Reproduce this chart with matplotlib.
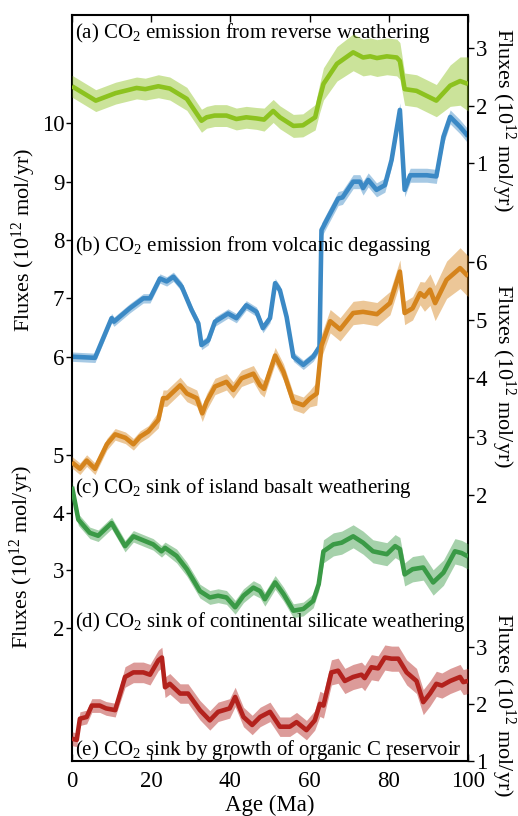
import matplotlib
matplotlib.use("Agg")
import matplotlib.pyplot as plt
import numpy as np

plt.rcParams['font.family'] = ['Liberation Serif', 'DejaVu Serif']
plt.rcParams['mathtext.fontset'] = 'custom'
plt.rcParams['mathtext.rm'] = 'Liberation Serif'
plt.rcParams['mathtext.it'] = 'Liberation Serif:italic'

# (a) reverse weathering, right axis 1-3
age_a = [0, 6, 11, 16.3, 18.5, 21.8, 24.7, 29, 32.7, 34, 36, 39, 41.5, 44, 46.6, 48.5, 50.8, 52.5, 55.9, 58.3,
         61.4, 62.5, 63.5, 66.9, 71, 73.5, 75.3, 77, 79.5, 82, 82.8, 84, 87, 92, 95.5, 98, 100]
flux_a = [2.34, 2.09, 2.22, 2.31, 2.29, 2.34, 2.30, 2.12, 1.74, 1.80, 1.83, 1.83, 1.77, 1.80, 1.78, 1.76, 1.91, 1.80, 1.65, 1.66,
          1.80, 2.12, 2.38, 2.73, 2.93, 2.84, 2.86, 2.83, 2.86, 2.84, 2.78, 2.29, 2.26, 2.09, 2.35, 2.43, 2.38]
err_a = [0.19, 0.19, 0.19, 0.19, 0.19, 0.2, 0.2, 0.2, 0.2, 0.19, 0.19, 0.19, 0.19, 0.19, 0.19, 0.2, 0.2, 0.2, 0.2, 0.2,
         0.22, 0.25, 0.28, 0.3, 0.32, 0.32, 0.32, 0.32, 0.32, 0.32, 0.32, 0.28, 0.28, 0.28, 0.36, 0.42, 0.47]

# (b) volcanic degassing, left axis 6-10
age_b = [0, 5.8, 10, 10.6, 14.6, 18, 19.7, 22.2, 23.9, 25.6, 27.7, 30.2, 31.9, 32.7, 34.4, 36.1, 39.4, 41.5, 44, 46.6,
         48.2, 50, 51.3, 52.5, 54.2, 55.9, 58.4, 60.9, 62.5, 63, 64.3, 67.2, 68.3, 71, 72.7, 73.5, 74.8, 76.9, 79, 80.7,
         82.8, 84, 85.4, 89.6, 92, 93.8, 95.5, 98, 100]
flux_b = [6.0, 5.98, 6.66, 6.6, 6.83, 7.0, 7.0, 7.34, 7.29, 7.37, 7.2, 6.8, 6.57, 6.2, 6.28, 6.6, 6.74, 6.66, 6.88, 6.77,
          6.49, 6.66, 7.26, 7.14, 6.68, 6.0, 5.86, 6.0, 6.17, 8.17, 8.34, 8.71, 8.73, 9.0, 9.0, 8.89, 9.03, 8.86, 8.94, 9.37,
          10.23, 8.86, 9.11, 9.11, 9.09, 9.77, 10.11, 9.94, 9.78]
err_b = [0.08] * 29 + [0.12] * 20

# orange series, right axis 2-6
age_o = [0, 2, 3.7, 5.8, 8.8, 10.9, 13.5, 15.5, 17.2, 19.3, 21.8, 23, 23.9, 27.3, 29, 31.5, 32.9, 34, 36.1, 39,
         40.7, 42.8, 45.8, 47.5, 48.5, 51.3, 53.4, 55.9, 58.4, 60, 61.8, 63, 65.2, 67.7, 71, 73.5, 75.3, 77, 80.3, 82.8,
         84, 86, 87.9, 89, 90.4, 91.7, 94.6, 98, 100]
flux_o = [2.56, 2.45, 2.59, 2.45, 2.87, 3.04, 2.98, 2.87, 3.0, 3.09, 3.29, 3.66, 3.66, 3.88, 3.74, 3.66, 3.40, 3.6, 3.86, 3.94,
          3.80, 4.0, 4.08, 3.88, 3.82, 4.39, 4.11, 3.60, 3.54, 3.65, 3.74, 4.56, 4.98, 4.84, 5.12, 5.14, 5.12, 5.10, 5.29, 5.83,
          5.12, 5.2, 5.46, 5.4, 5.52, 5.29, 5.69, 5.89, 5.75]
err_o = [0.1] * 10 + [0.14] * 20 + [0.2] * 13 + [0.25, 0.27, 0.3, 0.32, 0.35, 0.35]

# green series, left axis 2-5
age_g = [0, 1.6, 4.5, 6.6, 10, 13.4, 15.5, 20.5, 22.6, 23.5, 26.4, 29, 32.3, 34.8, 36.9, 39, 41.2, 43.3, 45.8, 47.5,
         48.7, 51.3, 53.4, 55.9, 58.4, 60.9, 62.3, 63.5, 66, 68.1, 71, 73.5, 76, 79.5, 81.6, 82.8, 84, 86, 88.7, 91.2,
         93.8, 96.7, 98.4, 100]
flux_g = [4.45, 3.88, 3.65, 3.6, 3.82, 3.42, 3.59, 3.45, 3.33, 3.39, 3.25, 3.02, 2.64, 2.53, 2.56, 2.53, 2.36, 2.56, 2.70, 2.64,
          2.5, 2.79, 2.59, 2.30, 2.33, 2.47, 2.76, 3.33, 3.45, 3.48, 3.59, 3.48, 3.33, 3.28, 3.42, 3.37, 2.93, 3.02, 3.05, 2.79,
          2.96, 3.33, 3.30, 3.24]
err_g = [0.1] * 10 + [0.12] * 17 + [0.2] * 10 + [0.22] * 7

# (e) organic C reservoir, right axis 1-3
age_r = [0, 1.2, 2, 3.7, 5, 7, 8.6, 10.9, 13.4, 15.5, 18, 19.7, 21.8, 22.7, 23.5, 24.7, 27.3, 29.3, 32.3, 34.8,
         36.9, 39.8, 41.2, 43.3, 45.5, 47.5, 50, 52.5, 55, 56.7, 59.2, 61.3, 62.6, 63.5, 65.5, 67.2, 68.9, 71, 73.1, 73.9,
         75.6, 77.3, 79, 80.7, 82.4, 84.5, 87, 88.7, 90.4, 92, 93.4, 95.5, 98, 98.8, 100]
flux_r = [1.39, 1.37, 1.74, 1.77, 1.97, 1.97, 1.92, 1.89, 2.47, 2.55, 2.55, 2.51, 2.76, 2.81, 2.29, 2.35, 2.18, 2.18, 1.89, 1.71,
          1.86, 1.92, 2.12, 1.77, 1.63, 1.77, 1.86, 1.60, 1.60, 1.68, 1.54, 1.71, 2.0, 1.97, 2.55, 2.58, 2.4, 2.47, 2.51, 2.45,
          2.64, 2.62, 2.81, 2.79, 2.79, 2.55, 2.40, 2.03, 2.18, 2.35, 2.32, 2.4, 2.47, 2.38, 2.4]
err_r = [0.12] * 8 + [0.18] * 8 + [0.17] * 16 + [0.22] * 23

labels = [r'(a) CO$_2$ emission from reverse weathering',
          r'(b) CO$_2$ emission from volcanic degassing',
          r'(c) CO$_2$ sink of island basalt weathering',
          r'(d) CO$_2$ sink of continental silicate weathering',
          r'(e) CO$_2$ sink by growth of organic C reservoir']
ylab = r'Fluxes (10$^{12}$ mol/yr)'

W, H = 518, 816
fig = plt.figure(figsize=(W / 100, H / 100), dpi=100)
L, R, T, B = 72, 468, 15, 761
ax = fig.add_axes([L / W, 1 - B / H, (R - L) / W, (B - T) / H])

ax_a = ax.twinx()
ax_o = ax.twinx()
ax_g = ax.twinx()
ax_r = ax.twinx()

series = [
    (ax_a, age_a, flux_a, err_a, '#8cc21f', (-9.395, 3.579), [1, 2, 3], 'right'),
    (ax, age_b, flux_b, err_b, '#3b89c5', (-0.931, 11.857), [6, 7, 8, 9, 10], 'left'),
    (ax_o, age_o, flux_o, err_o, '#d5841c', (-2.56, 10.229), [2, 3, 4, 5, 6], 'right'),
    (ax_g, age_g, flux_g, err_g, '#3a9a46', (-0.306, 12.63), [2, 3, 4, 5], 'left'),
    (ax_r, age_r, flux_r, err_r, '#b3221d', (1.0, 14.05), [1, 2, 3], 'right'),
]

for a, x, y, e, c, lim, ticks, side in series:
    x = np.array(x); y = np.array(y); e = np.array(e)
    a.fill_between(x, y - e, y + e, color=c, alpha=0.45, lw=0)
    a.plot(x, y, color=c, lw=3.3, solid_capstyle='butt')
    a.set_ylim(*lim)
    a.set_yticks(ticks)
    if side == 'left':
        a.yaxis.tick_left()
    else:
        a.yaxis.tick_right()
    a.tick_params(axis='y', direction='out', length=4, width=1, labelsize=16.5, pad=1.5)
    if a is not ax:
        for s in a.spines.values():
            s.set_visible(False)

ax.set_xlim(0, 100)
ax.set_xticks([0, 20, 40, 60, 80, 100])
ax.tick_params(axis='x', direction='in', top=True, length=5, width=1, labelsize=16.5, pad=7)
for s in ax.spines.values():
    s.set_linewidth(1.5)
ax.set_xlabel('Age (Ma)', fontsize=16.5, labelpad=2)

text_y = [33, 246, 488, 622, 750]
for lab, py in zip(labels, text_y):
    ax.text(0.008, (B - py) / (B - T), lab, transform=ax.transAxes, fontsize=15,
            ha='left', va='center', zorder=10)

# axis titles
for px, py, rot in [(24, 240, 90), (22, 557, 90), (503, 120, 270), (503, 376, 270), (503, 705, 270)]:
    fig.text(px / W, 1 - py / H, ylab, rotation=rot, fontsize=16, ha='center', va='center')

fig.savefig('out.png', dpi=100)
